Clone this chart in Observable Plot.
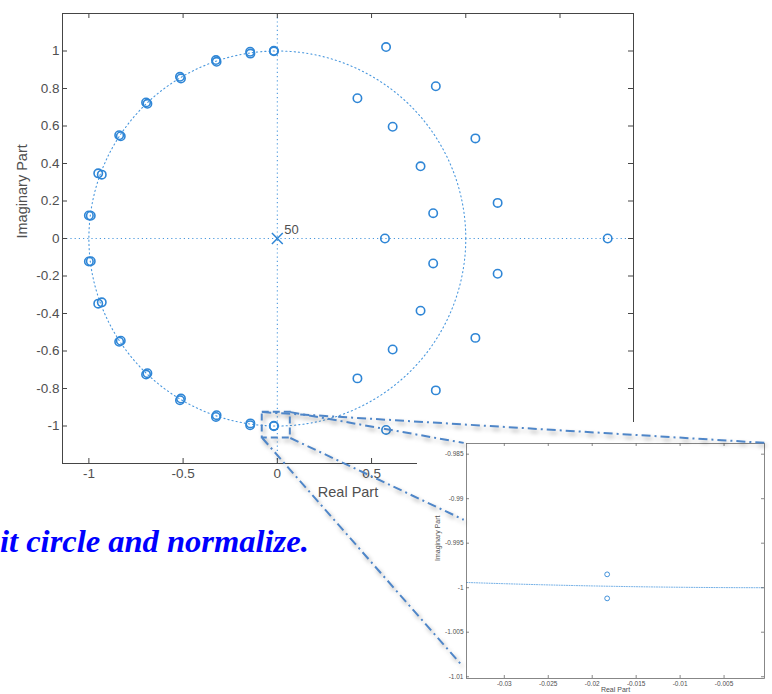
<!DOCTYPE html>
<html><head><meta charset="utf-8">
<script src="https://cdn.jsdelivr.net/npm/d3@7"></script>
<script src="https://cdn.jsdelivr.net/npm/@observablehq/plot@0.6"></script>
<style>
html,body{margin:0;padding:0;background:#fff;}
#wrap{position:relative;width:772px;height:694px;overflow:hidden;background:#fff;}
#main,#overlay{position:absolute;left:0;top:0;}
#overlay{pointer-events:none;}
#inset{position:absolute;left:417px;top:422px;width:355px;height:272px;background:#fff;overflow:visible;}
#caption{position:absolute;left:0;top:525px;font:bold italic 32.5px "Liberation Serif","Times New Roman",serif;color:#0000ff;line-height:32px;white-space:nowrap;}
</style></head>
<body><div id="wrap"><div id="main"></div><div id="inset"></div><div id="overlay"></div><div id="caption"></div></div>
<script>
// ---------------- data ----------------
// zeros (real / imaginary parts)
const zeroRe = [
  -0.0183, -0.0183, -0.1429, -0.1443, -0.3224, -0.3256, -0.5114, -0.5166,
  -0.6895, -0.6965, -0.8308, -0.8392, -0.9316, -0.9504, -0.9900, -1.0000,
  -0.0183, -0.0183, -0.1429, -0.1443, -0.3224, -0.3256, -0.5114, -0.5166,
  -0.6895, -0.6965, -0.8308, -0.8392, -0.9316, -0.9504, -0.9900, -1.0000,
  0.577, 0.841, 0.425, 0.612, 1.051, 0.760, 1.169, 0.827, 0.571, 1.753,
  0.827, 1.169, 0.760, 1.051, 0.612, 0.425, 0.841, 0.577
];
const zeroIm = [
  0.9985, 1.0012, 0.9861, 0.9960, 0.9423, 0.9517, 0.8537, 0.8623,
  0.7184, 0.7256, 0.5453, 0.5507, 0.3406, 0.3474, 0.1214, 0.1226,
  -0.9985, -1.0012, -0.9861, -0.9960, -0.9423, -0.9517, -0.8537, -0.8623,
  -0.7184, -0.7256, -0.5453, -0.5507, -0.3406, -0.3474, -0.1214, -0.1226,
  1.021, 0.812, 0.748, 0.596, 0.534, 0.385, 0.190, 0.135, 0.000, 0.000,
  -0.133, -0.188, -0.385, -0.530, -0.592, -0.746, -0.810, -1.021
];
// poles and their multiplicity
const poleRe = [0];
const poleIm = [0];
const poleMult = [50];

// tick values
const xTicksTop = [-1, -0.5, 0, 0.5, 1, 1.5];
const xTicksBottom = [-1, -0.5, 0, 0.5];
const yTicks = [1, 0.8, 0.6, 0.4, 0.2, 0, -0.2, -0.4, -0.6, -0.8, -1];
const insetXTicks = [-0.03, -0.025, -0.02, -0.015, -0.01, -0.005];
const insetYTicks = [-0.985, -0.99, -0.995, -1, -1.005, -1.01];

// texts
const xLabel = "Real Part";
const yLabel = "Imaginary Part";
const captionText = "it circle and normalize.";

// callout (zoom box and connector lines), in main-plot data units
const calloutBox = [{x1: -0.080, x2: 0.069, y1: -0.926, y2: -1.064}];
const calloutLinks = [
  {x1: -0.080, y1: -0.926, x2: 2.590, y2: -1.090},
  {x1: 0.069, y1: -0.926, x2: 0.989, y2: -1.090},
  {x1: 0.069, y1: -1.064, x2: 0.989, y2: -1.500},
  {x1: -0.080, y1: -1.064, x2: 0.984, y2: -2.282}
];

// ---------------- build ----------------
const zeros = zeroRe.map((re, i) => ({re, im: zeroIm[i]}));
const poles = poleRe.map((re, i) => ({re, im: poleIm[i], n: poleMult[i]}));
// unit circle geometry (reference curve of the z-plane)
const unitCircle = d3.range(0, 360.5, 0.5).map(a => ({re: Math.cos(a * Math.PI / 180), im: Math.sin(a * Math.PI / 180)}));
const unitArcInset = d3.range(-0.036, 0.0021, 0.0005).map(x => ({re: x, im: -Math.sqrt(1 - x * x)}));

const zeroColor = "#2f86d6";
const dotColor = "#4a98de";
const axisColor = "#454545";
const textColor = "#505050";
const calloutColor = "#4f86c8";
const font = "'Liberation Sans', Arial, Helvetica, sans-serif";

const W = 772, H = 694;
const mL = 62, mR = 139, mT = 13, mB = 231;
const xDom = [-1.14, 1.89], yDom = [-1.2, 1.2];
const tkX = 5 * (xDom[1] - xDom[0]) / (W - mL - mR);
const tkY = 5 * (yDom[1] - yDom[0]) / (H - mT - mB);

const main = Plot.plot({
  width: W, height: H,
  marginLeft: mL, marginRight: mR, marginTop: mT, marginBottom: mB,
  x: {domain: xDom}, y: {domain: yDom},
  style: {fontFamily: font, fontSize: "13.5px", color: textColor, background: "white"},
  marks: [
    Plot.ruleY([0], {stroke: dotColor, strokeWidth: 1.1, strokeDasharray: "1.2,3"}),
    Plot.ruleX([0], {stroke: dotColor, strokeWidth: 1.1, strokeDasharray: "1.2,3"}),
    Plot.line(unitCircle, {x: "re", y: "im", stroke: dotColor, strokeWidth: 1.1, strokeDasharray: "1.2,3"}),
    Plot.dot(zeros, {x: "re", y: "im", r: 4.2, stroke: zeroColor, strokeWidth: 1.6, fill: "none"}),
    Plot.dot(poles, {x: "re", y: "im", r: 5, symbol: "times", stroke: zeroColor, strokeWidth: 1.5}),
    Plot.text(poles, {x: "re", y: "im", text: d => String(d.n), dx: 7, dy: -9, textAnchor: "start", fill: textColor, fontSize: 13}),
    Plot.frame({stroke: axisColor, strokeWidth: 1}),
    Plot.ruleX(xTicksBottom, {x: d => d, y1: yDom[0], y2: yDom[0] + tkY, stroke: axisColor}),
    Plot.ruleX(xTicksTop, {x: d => d, y1: yDom[1], y2: yDom[1] - tkY, stroke: axisColor}),
    Plot.ruleY(yTicks, {y: d => d, x1: xDom[0], x2: xDom[0] + tkX, stroke: axisColor}),
    Plot.ruleY(yTicks, {y: d => d, x1: xDom[1], x2: xDom[1] - tkX, stroke: axisColor}),
    Plot.axisX({ticks: xTicksBottom, tickSize: 0, tickPadding: 5, tickFormat: d => String(d), label: null}),
    Plot.axisY({ticks: yTicks, tickSize: 0, tickPadding: 3, tickFormat: d => String(d), label: null}),
    Plot.text([xLabel], {frameAnchor: "bottom", text: d => d, dy: 29, lineAnchor: "middle", fontSize: 14.5, fill: textColor}),
    Plot.text([yLabel], {frameAnchor: "left", text: d => d, dx: -40, rotate: -90, lineAnchor: "middle", fontSize: 14.5, fill: textColor})
  ]
});
document.getElementById("main").appendChild(main);

// ---------------- inset ----------------
const iW = 355, iH = 280, iL = 49, iR = 8, iT = 21, iB = 24;
const ixDom = [-0.0343, -0.0004], iyDom = [-1.0102, -0.9838];
const itkX = 3 * (ixDom[1] - ixDom[0]) / (iW - iL - iR);
const itkY = 3 * (iyDom[1] - iyDom[0]) / (iH - iT - iB);
const inset = Plot.plot({
  width: iW, height: iH,
  marginLeft: iL, marginRight: iR, marginTop: iT, marginBottom: iB,
  x: {domain: ixDom}, y: {domain: iyDom},
  style: {fontFamily: font, fontSize: "6.5px", color: textColor, background: "transparent", overflow: "visible"},
  marks: [
    Plot.line(unitArcInset, {x: "re", y: "im", stroke: dotColor, strokeWidth: 0.8, strokeDasharray: "1,1.5", clip: true}),
    Plot.dot(zeros, {x: "re", y: "im", r: 2.4, stroke: zeroColor, strokeWidth: 0.9, fill: "none", clip: true}),
    Plot.frame({stroke: "#6a6a6a", strokeWidth: 0.8}),
    Plot.ruleX(insetXTicks, {x: d => d, y1: iyDom[0], y2: iyDom[0] + itkY, stroke: "#6a6a6a", strokeWidth: 0.8}),
    Plot.ruleX(insetXTicks, {x: d => d, y1: iyDom[1], y2: iyDom[1] - itkY, stroke: "#6a6a6a", strokeWidth: 0.8}),
    Plot.ruleY(insetYTicks, {y: d => d, x1: ixDom[0], x2: ixDom[0] + itkX, stroke: "#6a6a6a", strokeWidth: 0.8}),
    Plot.ruleY(insetYTicks, {y: d => d, x1: ixDom[1], x2: ixDom[1] - itkX, stroke: "#6a6a6a", strokeWidth: 0.8}),
    Plot.axisX({ticks: insetXTicks, tickSize: 0, tickPadding: 3, tickFormat: d => String(d), label: null}),
    Plot.axisY({ticks: insetYTicks, tickSize: 0, tickPadding: 3, tickFormat: d => String(d), label: null}),
    Plot.text([xLabel], {frameAnchor: "bottom", text: d => d, dy: 11.5, lineAnchor: "middle", fontSize: 7, fill: textColor}),
    Plot.text([yLabel], {frameAnchor: "left", text: d => d, dx: -29, rotate: -90, lineAnchor: "middle", fontSize: 7, fill: textColor})
  ]
});
document.getElementById("inset").appendChild(inset);

// ---------------- callout overlay (same scales as main) ----------------
const overlay = Plot.plot({
  width: W, height: H,
  marginLeft: mL, marginRight: mR, marginTop: mT, marginBottom: mB,
  x: {domain: xDom, axis: null}, y: {domain: yDom, axis: null},
  style: {background: "transparent", filter: "drop-shadow(2px 3px 2px rgba(0,0,0,0.35))"},
  marks: [
    Plot.rect(calloutBox, {x1: "x1", x2: "x2", y1: "y1", y2: "y2", fill: "none", stroke: calloutColor, strokeWidth: 2, strokeDasharray: "7,4"}),
    Plot.link(calloutLinks, {x1: "x1", y1: "y1", x2: "x2", y2: "y2", stroke: calloutColor, strokeWidth: 2, strokeDasharray: "9,4,2,4"})
  ]
});
document.getElementById("overlay").appendChild(overlay);

document.getElementById("caption").textContent = captionText;
</script>
</body></html>
